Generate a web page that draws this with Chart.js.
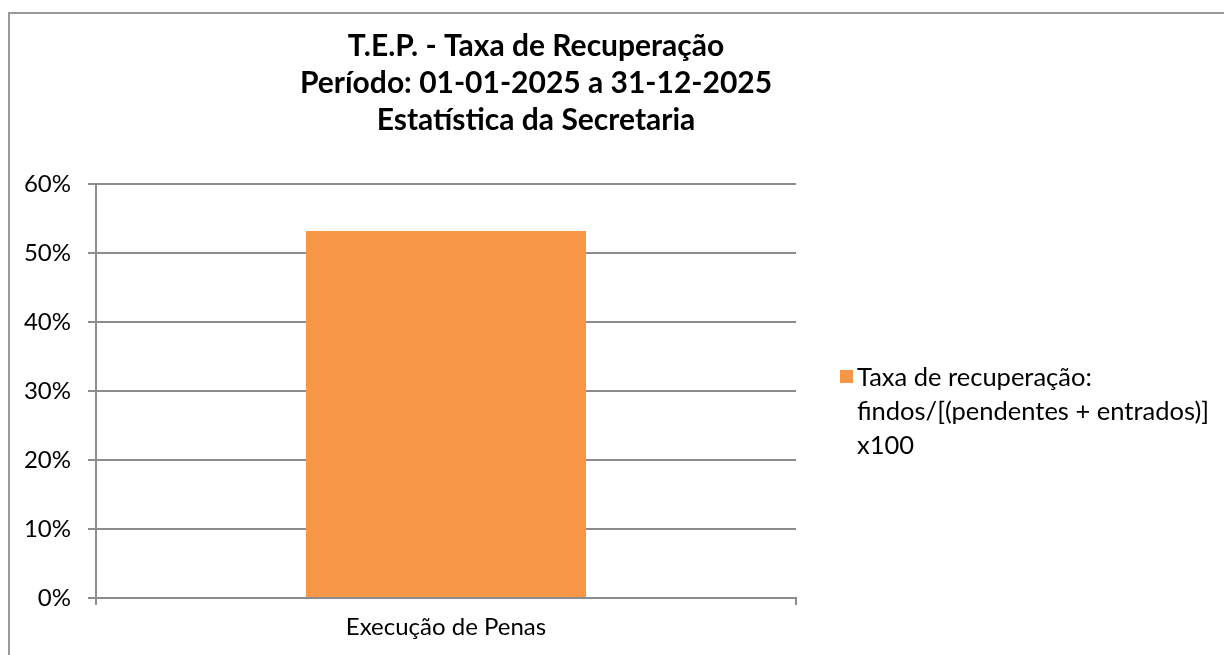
<!DOCTYPE html>
<html>
<head>
    <title>T.E.P. - Taxa de Recuperação</title>
    <style>
        body { margin: 0; background: #fff; }
        #wrap { width: 1224px; height: 655px; }
    </style>
    <script src="https://cdn.jsdelivr.net/npm/chart.js"></script>
</head>
<body>
    <div id="wrap"><canvas id="myChart" width="1224" height="655"></canvas></div>
    <script>
        // datos del gráfico
        var categorias = ['Execução de Penas'];
        var taxa = [0.532];
        var tituloLineas = ['T.E.P. - Taxa de Recuperação', 'Período: 01-01-2025 a 31-12-2025', 'Estatística da Secretaria'];
        var leyendaLineas = ['Taxa de recuperação:', 'findos/[(pendentes + entrados)]', 'x100'];
        var serieNombre = leyendaLineas.join(' ');

        var naranja = '#F79646';
        var gris = '#8c8c8c';
        var fuente = 'Lato, "Open Sans", sans-serif';

        // borde, título y leyenda dibujados a mano
        var extras = {
            id: 'extras',
            beforeDraw: function (chart) {
                var c = chart.ctx;
                c.save();
                c.strokeStyle = '#999';
                c.lineWidth = 2;
                c.beginPath();
                c.moveTo(9, 655);
                c.lineTo(9, 13);
                c.lineTo(1224, 13);
                c.stroke();
                c.restore();
            },
            afterDraw: function (chart) {
                var c = chart.ctx;
                c.save();
                c.fillStyle = '#000';
                c.textAlign = 'center';
                c.textBaseline = 'alphabetic';
                c.font = 'bold 30px ' + fuente;
                tituloLineas.forEach(function (t, i) {
                    c.fillText(t, 536, 56 + i * 37);
                });
                c.fillStyle = naranja;
                c.fillRect(840, 370, 13, 13);
                c.fillStyle = '#000';
                c.textAlign = 'left';
                c.font = '25.5px ' + fuente;
                leyendaLineas.forEach(function (t, i) {
                    c.fillText(t, 857, 386 + i * 34);
                });
                c.restore();
            }
        };

        var ctx = document.getElementById('myChart').getContext('2d');
        var myChart = new Chart(ctx, {
            type: 'bar',
            data: {
                labels: categorias,
                datasets: [{
                    label: serieNombre,
                    data: taxa,
                    backgroundColor: naranja,
                    borderWidth: 0,
                    barPercentage: 0.4,
                    categoryPercentage: 1
                }]
            },
            options: {
                responsive: false,
                animation: false,
                layout: { padding: { left: 0, top: 184, right: 428, bottom: 0 } },
                plugins: {
                    legend: { display: false },
                    title: { display: false },
                    tooltip: { enabled: false }
                },
                scales: {
                    x: {
                        afterFit: function (s) { s.height = 57; },
                        grid: { display: true, drawOnChartArea: false, offset: true, color: gris, tickLength: 7, lineWidth: 2 },
                        border: { color: gris, width: 2 },
                        ticks: { color: '#000', font: { family: fuente, size: 24 }, padding: 8 }
                    },
                    y: {
                        min: 0,
                        max: 0.6,
                        afterFit: function (s) { s.width = 96; },
                        grid: { color: gris, tickLength: 8, lineWidth: 2 },
                        border: { color: gris, width: 2 },
                        ticks: {
                            stepSize: 0.1,
                            color: '#000',
                            padding: 17,
                            font: { family: fuente, size: 24 },
                            callback: function (v) { return Math.round(v * 100) + '%'; }
                        }
                    }
                }
            },
            plugins: [extras]
        });
    </script>
</body>
</html>
